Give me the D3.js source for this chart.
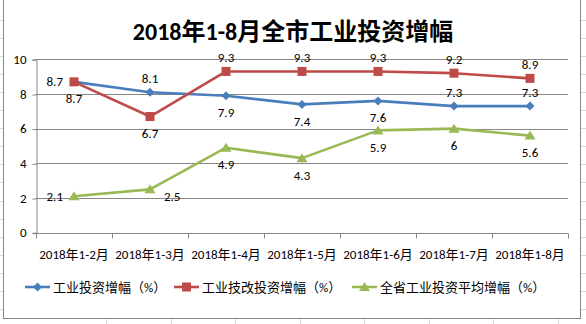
<!DOCTYPE html>
<html lang="zh">
  <head>
    <meta charset="UTF-8" />
    <title>2018年1-8月全市工业投资增幅</title>
    <style>
      * {
        margin: 0;
        padding: 0;
      }
      body {
        background: #fff;
      }
      text {
        font-family: Calibri, 'Noto Sans CJK SC', sans-serif;
      }
    </style>
  </head>
  <body>
    <script src="https://cdn.jsdelivr.net/npm/d3@7"></script>
    <script>
      const months = ['2018年1-2月', '2018年1-3月', '2018年1-4月', '2018年1-5月', '2018年1-6月', '2018年1-7月', '2018年1-8月']
      const invest = [8.7, 8.1, 7.9, 7.4, 7.6, 7.3, 7.3]
      const techInvest = [8.7, 6.7, 9.3, 9.3, 9.3, 9.2, 8.9]
      const provinceAvg = [2.1, 2.5, 4.9, 4.3, 5.9, 6, 5.6]
      const yTicks = [0, 2, 4, 6, 8, 10]

      // 数据标签位置
      const investPos = ['left', 'above', 'below', 'below', 'below', 'above', 'above']
      const techPos = ['below', 'below', 'above', 'above', 'above', 'above', 'above']
      const avgPos = ['left', 'right', 'below', 'below', 'below', 'below', 'below']

      const series = [
        { name: '工业投资增幅（%）', values: invest, pos: investPos, color: '#4a7ebb', marker: 'diamond' },
        { name: '工业技改投资增幅（%）', values: techInvest, pos: techPos, color: '#be4b48', marker: 'square' },
        { name: '全省工业投资平均增幅（%）', values: provinceAvg, pos: avgPos, color: '#98b954', marker: 'triangle' }
      ]

      const W = 586
      const H = 324
      const svg = d3.select('body').append('svg').attr('width', W).attr('height', H)

      // 表格背景的单元格线
      const cellLines = svg.append('g').attr('stroke', '#dadada').attr('stroke-width', 1)
      d3.range(19.5, H, 18.1).forEach(y => {
        cellLines.append('line').attr('x1', 0).attr('x2', W).attr('y1', Math.round(y) + 0.5).attr('y2', Math.round(y) + 0.5)
      })
      d3.range(106, W, 64.5).forEach(x => {
        cellLines.append('line').attr('x1', Math.round(x) + 0.5).attr('x2', Math.round(x) + 0.5).attr('y1', 0).attr('y2', H)
      })

      // 图表区
      svg.append('rect')
        .attr('x', 3.5).attr('y', -0.5)
        .attr('width', 577).attr('height', 319)
        .attr('fill', '#fff')
        .attr('stroke', '#868686')

      svg.append('text')
        .attr('x', 293).attr('y', 40)
        .attr('text-anchor', 'middle')
        .attr('font-size', 24)
        .attr('font-weight', 'bold')
        .attr('fill', '#000')
        .text('2018年1-8月全市工业投资增幅')

      const x = d3.scaleBand().domain(months).range([36, 568])
      const y = d3.scaleLinear().domain([0, 10]).range([232.7, 59.3])
      const cx = d => x(d) + x.bandwidth() / 2

      // 网格线
      svg.append('g')
        .selectAll('line')
        .data(yTicks)
        .join('line')
        .attr('x1', 36).attr('x2', 568)
        .attr('y1', d => Math.round(y(d)) + 0.5)
        .attr('y2', d => Math.round(y(d)) + 0.5)
        .attr('stroke', '#868686')

      const yAxis = svg.append('g')
        .attr('transform', 'translate(36.5,0)')
        .call(d3.axisLeft(y).tickValues(yTicks).tickSize(4).tickPadding(6))
      yAxis.select('.domain').attr('stroke', '#868686')
      yAxis.selectAll('.tick line').attr('stroke', '#868686').attr('transform', 'translate(0,0.5)')
      yAxis.selectAll('.tick text').attr('font-size', 13).attr('fill', '#000').attr('font-family', null)

      // 分类轴：刻度在分类边界
      const xAxis = svg.append('g').attr('transform', `translate(0,${Math.round(y(0)) + 0.5})`)
      xAxis.append('line').attr('x1', 36).attr('x2', 568).attr('stroke', '#868686')
      xAxis.selectAll('.edge')
        .data(d3.range(months.length + 1))
        .join('line')
        .attr('class', 'edge')
        .attr('x1', i => Math.round(36 + i * x.step()) + 0.5)
        .attr('x2', i => Math.round(36 + i * x.step()) + 0.5)
        .attr('y1', 0).attr('y2', 5)
        .attr('stroke', '#868686')
      xAxis.selectAll('.lbl')
        .data(months)
        .join('text')
        .attr('class', 'lbl')
        .attr('x', d => cx(d))
        .attr('y', 21)
        .attr('dy', '0.35em')
        .attr('text-anchor', 'middle')
        .attr('font-size', 13)
        .text(d => d)

      const line = d3.line().x((v, i) => cx(months[i])).y(v => y(v))

      function drawMarker(g, type, color) {
        if (type === 'diamond') {
          g.append('path').attr('d', 'M0,-4.5L4.5,0L0,4.5L-4.5,0Z').attr('fill', color)
        } else if (type === 'square') {
          g.append('rect').attr('x', -4.5).attr('y', -4.5).attr('width', 9).attr('height', 9).attr('fill', color)
        } else {
          g.append('path').attr('d', 'M0,-5L5.5,4L-5.5,4Z').attr('fill', color)
        }
      }

      series.forEach(s => {
        svg.append('path')
          .datum(s.values)
          .attr('d', line)
          .attr('fill', 'none')
          .attr('stroke', s.color)
          .attr('stroke-width', 2.6)
          .attr('stroke-linejoin', 'round')

        s.values.forEach((v, i) => {
          const g = svg.append('g').attr('transform', `translate(${cx(months[i])},${y(v)})`)
          drawMarker(g, s.marker, s.color)
        })
      })

      // 数据标签
      const offsets = {
        above: [0, -14, 'middle'],
        below: [0, 17, 'middle'],
        left: [-11, 0, 'end'],
        right: [14, 7, 'start']
      }
      series.forEach(s => {
        s.values.forEach((v, i) => {
          const [dx, dy, anchor] = offsets[s.pos[i]]
          svg.append('text')
            .attr('x', cx(months[i]) + dx)
            .attr('y', y(v) + dy)
            .attr('dy', '0.35em')
            .attr('text-anchor', anchor)
            .attr('font-size', 13)
            .text(v)
        })
      })

      // 图例
      const legendX = [25, 174, 352]
      const legend = svg.append('g').attr('transform', 'translate(0,287)')
      series.forEach((s, i) => {
        const g = legend.append('g').attr('transform', `translate(${legendX[i]},0)`)
        g.append('line').attr('x1', 0).attr('x2', 25).attr('stroke', s.color).attr('stroke-width', 2.6)
        const m = g.append('g').attr('transform', 'translate(12.5,0)')
        drawMarker(m, s.marker, s.color)
        g.append('text')
          .attr('x', 28)
          .attr('dy', '0.35em')
          .attr('font-size', 13)
          .text(s.name)
      })
    </script>
  </body>
</html>
